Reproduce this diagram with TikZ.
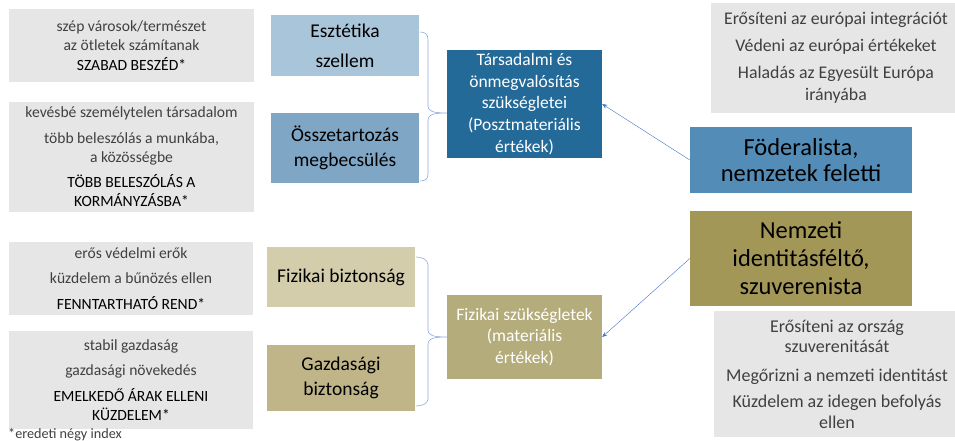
\documentclass[tikz,border=0pt]{standalone}
\usepackage{fontspec}
\setmainfont{Carlito}
\usetikzlibrary{arrows.meta}
\definecolor{greybox}{HTML}{E7E6E6}
\definecolor{greytext}{HTML}{404040}
\definecolor{esztcol}{HTML}{A9C5D9}
\definecolor{osszcol}{HTML}{7FA6C4}
\definecolor{tarscol}{HTML}{246A99}
\definecolor{fodcol}{HTML}{548CB8}
\definecolor{fizbcol}{HTML}{D3CDAB}
\definecolor{gazdcol}{HTML}{BFB589}
\definecolor{fizscol}{HTML}{B5AC7B}
\definecolor{nemzcol}{HTML}{A39758}
\definecolor{linecol}{HTML}{8FAADC}
\definecolor{arrcol}{HTML}{4472C4}
\tikzset{
  listbox/.style={fill=greybox, inner sep=0pt, align=center, text=greytext,
    font=\fontsize{15.6}{19.5}\selectfont},
  needbox/.style={inner sep=0pt, align=center, text=black,
    font=\fontsize{19.5}{25}\selectfont},
  groupbox/.style={inner sep=0pt, align=center, text=white,
    font=\fontsize{17.5}{21.6}\selectfont},
  viewbox/.style={inner sep=0pt, align=center, text=black,
    font=\fontsize{24.5}{26}\selectfont},
  brace/.style={draw=linecol, line width=0.6pt},
  arr/.style={draw=arrcol, line width=0.4pt, -{Stealth[length=5pt,width=4pt]}}
}
\newcommand{\caps}[1]{\textcolor{black}{#1}}
\begin{document}
\begin{tikzpicture}[x=1pt, y=-1pt]
\useasboundingbox (0,0) rectangle (955,441);
\clip (0,0) rectangle (955,441);

\node[listbox, minimum width=245pt, minimum height=73pt] (szep) at (131.5,45.5)
  {szép városok/természet\\az ötletek számítanak\\\caps{SZABAD BESZÉD*}};
\node[listbox, minimum width=245pt, minimum height=110pt] (keves) at (131.5,157)
  {kevésbé személytelen társadalom\\[6pt]több beleszólás a munkába,\\a közösségbe\\[5pt]\caps{TÖBB BELESZÓLÁS A}\\\caps{KORMÁNYZÁSBA*}};
\node[listbox, minimum width=244pt, minimum height=73pt] (eros) at (131,278.5)
  {erős védelmi erők\\[6pt]küzdelem a bűnözés ellen\\[6pt]\caps{FENNTARTHATÓ REND*}};
\node[listbox, minimum width=244pt, minimum height=98pt] (stabil) at (131,380)
  {stabil gazdaság\\[6pt]gazdasági növekedés\\[6pt]\caps{EMELKEDŐ ÁRAK ELLENI}\\\caps{KÜZDELEM*}};
\node[anchor=west, inner sep=0pt, text=greytext, font=\fontsize{14.2}{16}\selectfont] (index) at (8,435)
  {*eredeti négy index};

\node[needbox, fill=esztcol, minimum width=148pt, minimum height=61pt, font=\fontsize{19.5}{30}\selectfont] (eszt) at (345,45.5)
  {Esztétika\\szellem};
\node[needbox, fill=osszcol, minimum width=148pt, minimum height=70pt] (ossz) at (345,148)
  {Összetartozás\\megbecsülés};
\node[needbox, fill=fizbcol, minimum width=148pt, minimum height=60pt] (fizb) at (341,277)
  {Fizikai biztonság};
\node[needbox, fill=gazdcol, minimum width=148pt, minimum height=66pt] (gazd) at (341,378)
  {Gazdasági\\biztonság};

\node[groupbox, fill=tarscol, minimum width=155pt, minimum height=108pt] (tars) at (524.5,104)
  {Társadalmi és\\önmegvalósítás\\szükségletei\\(Posztmateriális\\értékek)};
\node[groupbox, fill=fizscol, minimum width=155pt, minimum height=84pt] (fizs) at (524.5,337)
  {Fizikai szükségletek\\(materiális\\értékek)};

\node[viewbox, fill=fodcol, minimum width=222pt, minimum height=66pt] (fod) at (801,160)
  {Föderalista,\\nemzetek feletti};
\node[viewbox, fill=nemzcol, minimum width=222pt, minimum height=95pt, font=\fontsize{24.5}{28}\selectfont] (nemz) at (801,258.5)
  {Nemzeti\\identitásféltő,\\szuverenista};

\node[listbox, minimum width=250pt, minimum height=110pt, font=\fontsize{17.8}{22}\selectfont] (europa) at (836,58)
  {Erősíteni az európai integrációt\\[5pt]Védeni az európai értékeket\\[5pt]Haladás az Egyesült Európa\\irányába};
\node[listbox, minimum width=246pt, minimum height=126pt, font=\fontsize{18}{20.5}\selectfont] (orszag) at (837,374)
  {Erősíteni az ország\\szuverenitását\\[8pt]Megőrizni a nemzeti identitást\\[6pt]Küzdelem az idegen befolyás\\ellen};

\draw[brace] (420,32) .. controls (425,32) and (428,34) .. (428,40) -- (428,106)
  .. controls (428,111) and (432,113) .. (tars.west |- 0,113)
  .. controls (432,113) and (428,115) .. (428,120) -- (428,174)
  .. controls (428,179) and (425,181) .. (420,181);
\draw[brace] (416,257) .. controls (421,257) and (428,259) .. (428,265) -- (428,330)
  .. controls (428,335) and (432,337) .. (fizs.west)
  .. controls (432,337) and (428,339) .. (428,344) -- (428,399)
  .. controls (428,404) and (421,406) .. (416,406);

\draw[arr] (fod.west) -- (tars.east);
\draw[arr] (nemz.west) -- (fizs.east);
\end{tikzpicture}
\end{document}
